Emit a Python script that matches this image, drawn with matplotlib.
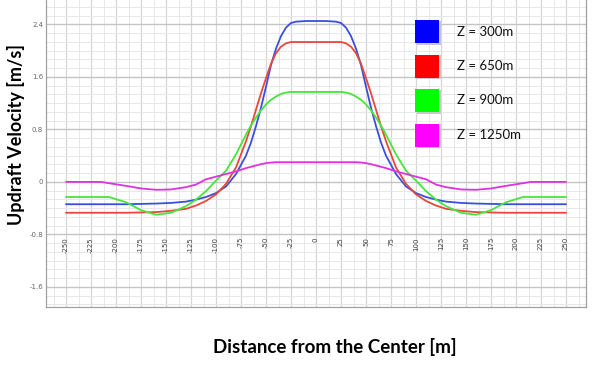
import numpy as np
import matplotlib
matplotlib.use('Agg')
import matplotlib.pyplot as plt
from matplotlib.patches import Rectangle
from matplotlib.ticker import MultipleLocator

# distance from the center [m]
distance = [-250, -215, -207, -190, -175, -160, -145, -130, -120, -110, -100, -90, -80, -70, -65, -60, -55, -50,
            -45, -40, -35, -30, -25, -20, -10, 0, 10, 20, 25, 30, 35, 40, 45, 50, 55, 60, 65, 70, 80, 90,
            100, 110, 120, 130, 145, 160, 175, 190, 207, 215, 250]

# updraft velocity [m/s]
w_300 = [-0.34, -0.34, -0.34, -0.34, -0.335, -0.33, -0.32, -0.30, -0.27, -0.23, -0.17, -0.07, 0.12, 0.40, 0.60, 0.85,
         1.13, 1.45, 1.78, 2.03, 2.22, 2.35, 2.42, 2.44, 2.45, 2.45, 2.45, 2.44, 2.42, 2.35, 2.22, 2.03, 1.78,
         1.45, 1.13, 0.85, 0.60, 0.40, 0.12, -0.07, -0.17, -0.23, -0.27, -0.30, -0.32, -0.33, -0.335, -0.34,
         -0.34, -0.34, -0.34]
w_650 = [-0.47, -0.47, -0.47, -0.47, -0.465, -0.46, -0.44, -0.41, -0.36, -0.29, -0.19, -0.03, 0.22, 0.62, 0.85, 1.10,
         1.35, 1.58, 1.80, 1.96, 2.06, 2.11, 2.13, 2.13, 2.13, 2.13, 2.13, 2.13, 2.13, 2.11, 2.06, 1.96, 1.80,
         1.58, 1.35, 1.10, 0.85, 0.62, 0.22, -0.03, -0.19, -0.29, -0.36, -0.41, -0.44, -0.46, -0.465, -0.47,
         -0.47, -0.47, -0.47]
w_900 = [-0.23, -0.23, -0.23, -0.31, -0.43, -0.50, -0.47, -0.37, -0.27, -0.14, 0.02, 0.17, 0.42, 0.72, 0.86, 0.98,
         1.09, 1.18, 1.25, 1.30, 1.34, 1.36, 1.37, 1.37, 1.37, 1.37, 1.37, 1.37, 1.37, 1.36, 1.34, 1.30, 1.25,
         1.18, 1.09, 0.98, 0.86, 0.72, 0.42, 0.17, 0.02, -0.14, -0.27, -0.37, -0.47, -0.50, -0.43, -0.31,
         -0.23, -0.23, -0.23]
w_1250 = [0.0, 0.0, -0.02, -0.06, -0.10, -0.12, -0.115, -0.08, -0.04, 0.04, 0.08, 0.12, 0.16, 0.21, 0.23, 0.25,
          0.27, 0.285, 0.295, 0.30, 0.30, 0.30, 0.30, 0.30, 0.30, 0.30, 0.30, 0.30, 0.30, 0.30, 0.30, 0.30, 0.295,
          0.285, 0.27, 0.25, 0.23, 0.21, 0.16, 0.12, 0.08, 0.04, -0.04, -0.08, -0.115, -0.12, -0.10, -0.06,
          -0.02, 0.0, 0.0]

labels = ['Z = 300m', 'Z = 650m', 'Z = 900m', 'Z = 1250m']
line_colors = ['#3a4fe0', '#e8473a', '#45e63a', '#e030e0']
box_colors = ['#0000ff', '#ff0000', '#00ff00', '#ff00ff']

x_ticks = [-250, -225, -200, -175, -150, -125, -100, -75, -50, -25, 0,
           25, 50, 75, 100, 125, 150, 175, 200, 225, 250]
y_ticks = [-1.6, -0.8, 0, 0.8, 1.6, 2.4]
y_tick_labels = ['-1.6', '-0.8', '0', '0.8', '1.6', '2.4']

W, H = 595, 365
fig = plt.figure(figsize=(W / 100, H / 100), dpi=100)
ax = fig.add_axes([46 / W, 1 - 307 / H, 540 / W, 307 / H])

for w, c in zip([w_300, w_650, w_900, w_1250], line_colors):
    ax.plot(distance, w, color=c, lw=1.3, solid_capstyle='round')

ax.set_xlim(-270, 270)
ax.set_ylim(-1.905, 2.77)
ax.xaxis.set_major_locator(MultipleLocator(25))
ax.xaxis.set_minor_locator(MultipleLocator(12.5))
ax.set_yticks(y_ticks)
ax.set_yticklabels(y_tick_labels)
ax.yaxis.set_minor_locator(MultipleLocator(0.8 / 6))
ax.grid(which='major', axis='y', color='#c4c4c4', lw=1.0)
ax.grid(which='major', axis='x', color='#d6d6d6', lw=0.9)
ax.grid(which='minor', color='#e8e8e8', lw=0.7)
ax.set_axisbelow(True)
ax.tick_params(which='both', length=0)
ax.tick_params(axis='y', labelsize=5, labelcolor='#666666', pad=2)
ax.set_xticklabels([])
for s in ['left', 'bottom', 'right']:
    ax.spines[s].set_color('#a0a0a0')
    ax.spines[s].set_linewidth(0.9)
ax.spines['top'].set_visible(False)

# x tick labels drawn inside the plot just below the -0.8 line
for xv in x_ticks:
    ax.text(xv, -0.84, str(xv), rotation=90, ha='center', va='top',
            fontsize=5, color='#444444')

# legend boxes
for i, (lab, c) in enumerate(zip(labels, box_colors)):
    top = 20 + i * 34.5
    fig.add_artist(Rectangle((416.5 / W, 1 - (top + 24.5) / H), 24 / W, 24 / H,
                             transform=fig.transFigure, facecolor='#c8c8c8', edgecolor='none'))
    fig.add_artist(Rectangle((415 / W, 1 - (top + 23) / H), 24 / W, 23 / H,
                             transform=fig.transFigure, facecolor=c, edgecolor='none'))
    fig.text(457 / W, 1 - (top + 11.5) / H, lab, fontsize=9.5, family='Lato',
             va='center', ha='left', color='#111111')

fig.text(16 / W, 1 - 134 / H, 'Updraft Velocity [m/s]', rotation=90, fontsize=13,
         family='Lato', fontweight='bold', ha='center', va='center')
fig.text(335 / W, 1 - 347 / H, 'Distance from the Center [m]', fontsize=13.5,
         family='Lato', fontweight='bold', ha='center', va='center')

fig.savefig('out.png', dpi=100)
